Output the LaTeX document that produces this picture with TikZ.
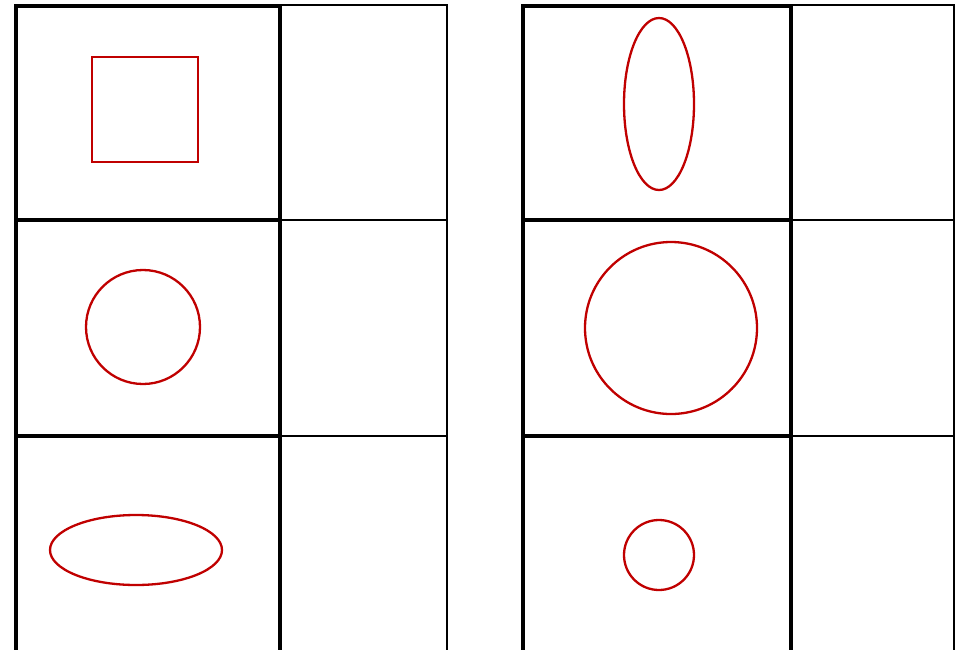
\documentclass[tikz,border=0pt]{standalone}
\definecolor{shapered}{RGB}{192,0,0}
\begin{document}
\begin{tikzpicture}[x=1pt,y=-1pt,
  thickcell/.style={draw=black,line width=3.4pt},
  thincell/.style={draw=black,line width=2pt},
  shapeline/.style={draw=shapered,line width=2.3pt}]
\useasboundingbox (0,0) rectangle (962,649);
\begin{scope}
\clip (0,0) rectangle (962,649);
% left table
\draw[thincell] (280,5) -- (447,5) -- (447,660);
\draw[thincell] (280,220) -- (447,220);
\draw[thincell] (280,436) -- (447,436);
\draw[thickcell] (16,6) rectangle (280,220);
\draw[thickcell] (16,220) rectangle (280,436);
\draw[thickcell] (16,436) rectangle (280,665);
% right table
\draw[thincell] (791,5) -- (954,5) -- (954,660);
\draw[thincell] (791,220) -- (954,220);
\draw[thincell] (791,436) -- (954,436);
\draw[thickcell] (523,6) rectangle (791,220);
\draw[thickcell] (523,220) rectangle (791,436);
\draw[thickcell] (523,436) rectangle (791,665);
\end{scope}
% shapes
\draw[shapeline] (92,57) rectangle (198,162);
\draw[shapeline] (143,327) circle[radius=57];
\draw[shapeline] (136,550) ellipse[x radius=86,y radius=35];
\draw[shapeline] (659,104) ellipse[x radius=35,y radius=86];
\draw[shapeline] (671,328) circle[radius=86];
\draw[shapeline] (659,555) circle[radius=35];
\end{tikzpicture}
\end{document}
